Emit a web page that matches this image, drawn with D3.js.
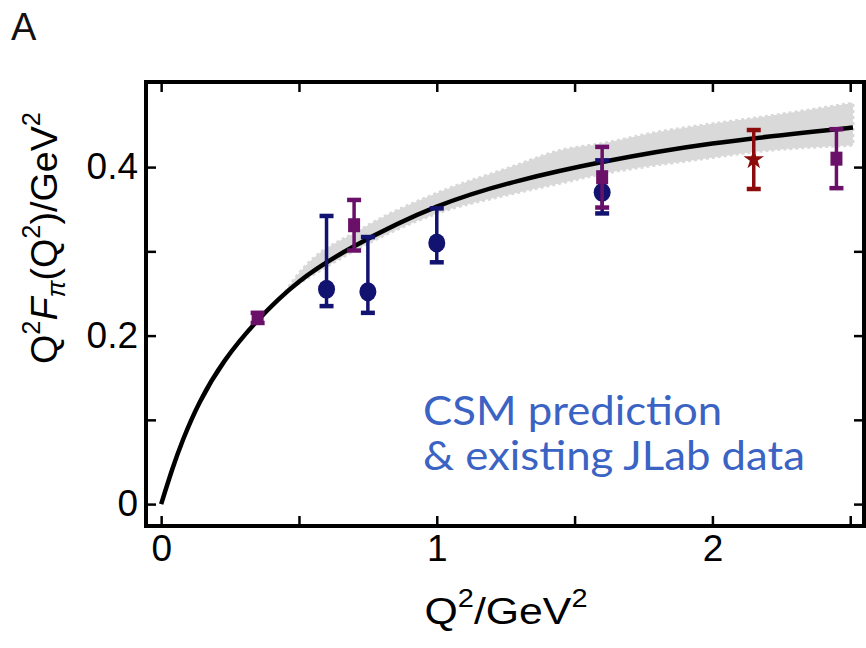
<!DOCTYPE html>
<meta charset="utf-8">
<script src="https://d3js.org/d3.v7.min.js"></script>
<style>
  body { margin: 0; background: #fff; }
</style>
<div id="vis"></div>
<script>

// CSM prediction curve
var curveQ2  = [0, 0.04, 0.08, 0.14, 0.23, 0.35, 0.5, 0.7, 1.0, 1.3, 1.6, 2.0, 2.51]
var curveVal = [0, 0.041, 0.077, 0.121, 0.170, 0.218, 0.264, 0.306, 0.353, 0.384, 0.406, 0.428, 0.447]

// grey uncertainty band
var bandQ2 = [0.45, 0.5, 0.73, 1.0, 1.27, 1.45, 1.6, 1.81, 1.97, 2.15, 2.51]
var bandLo = [0.252, 0.262, 0.306, 0.345, 0.368, 0.381, 0.392, 0.403, 0.41, 0.418, 0.426]
var bandHi = [0.252, 0.274, 0.327, 0.369, 0.4, 0.42, 0.428, 0.442, 0.45, 0.458, 0.476]

// JLab data: circles
var circQ2    = [0.60, 0.75, 1.00, 1.60]
var circVal   = [0.255, 0.252, 0.310, 0.370]
var circErrUp = [0.087, 0.065, 0.041, 0.038]
var circErrDn = [0.020, 0.025, 0.023, 0.025]

// JLab data: squares
var sqQ2  = [0.35, 0.70, 1.60, 2.45]
var sqVal = [0.221, 0.331, 0.388, 0.410]
var sqErr = [0.006, 0.030, 0.036, 0.035]

// star
var starQ2  = [2.15]
var starVal = [0.409]
var starErr = [0.035]

var xTicks = [0, 0.5, 1, 1.5, 2, 2.5]
var xLabels = [0, 1, 2]
var yTicks = [0, 0.1, 0.2, 0.3, 0.4]
var yLabels = [0, 0.2, 0.4]

var noteLines = ["CSM prediction", "& existing JLab data"]

var width = 866,
    height = 648

var axisFont = "'Liberation Sans', Arial, sans-serif"

var svg = d3.select("#vis")
  .append("svg")
    .attr("width", width)
    .attr("height", height)
    .style("font-family", axisFont)

var x = d3.scaleLinear().domain([-0.055, 2.55]).range([146, 864])
var y = d3.scaleLinear().domain([-0.026, 0.501]).range([526, 82])

// band
var band = bandQ2.map(function(q, i) { return {q: q, lo: bandLo[i], hi: bandHi[i]} })
svg.append("path")
  .datum(band)
  .attr("d", d3.area()
    .x(function(d) { return x(d.q) })
    .y0(function(d) { return y(d.lo) })
    .y1(function(d) { return y(d.hi) })
    .curve(d3.curveMonotoneX))
  .attr("fill", "#d9d9d9")
  .attr("stroke", "#d9d9d9")
  .attr("stroke-width", 3)
  .attr("stroke-dasharray", "3,3")

// curve
var curve = curveQ2.map(function(q, i) { return {q: q, v: curveVal[i]} })
svg.append("path")
  .datum(curve)
  .attr("d", d3.line()
    .x(function(d) { return x(d.q) })
    .y(function(d) { return y(d.v) })
    .curve(d3.curveNatural))
  .attr("fill", "none")
  .attr("stroke", "#000")
  .attr("stroke-width", 4.5)

function errorBars(q, v, up, dn, color) {
  var pts = q.map(function(d, i) { return {q: d, v: v[i], up: up[i], dn: dn[i]} })
  var g = svg.append("g").attr("stroke", color)
  g.selectAll("line.bar").data(pts).join("line")
    .attr("class", "bar")
    .attr("x1", function(d) { return x(d.q) })
    .attr("x2", function(d) { return x(d.q) })
    .attr("y1", function(d) { return y(d.v + d.up) })
    .attr("y2", function(d) { return y(d.v - d.dn) })
    .attr("stroke-width", 3.5)
  g.selectAll("line.top").data(pts).join("line")
    .attr("class", "top")
    .attr("x1", function(d) { return x(d.q) - 7 })
    .attr("x2", function(d) { return x(d.q) + 7 })
    .attr("y1", function(d) { return y(d.v + d.up) })
    .attr("y2", function(d) { return y(d.v + d.up) })
    .attr("stroke-width", 4.5)
  g.selectAll("line.bot").data(pts).join("line")
    .attr("class", "bot")
    .attr("x1", function(d) { return x(d.q) - 7 })
    .attr("x2", function(d) { return x(d.q) + 7 })
    .attr("y1", function(d) { return y(d.v - d.dn) })
    .attr("y2", function(d) { return y(d.v - d.dn) })
    .attr("stroke-width", 4.5)
  return pts
}

// circles
var circPts = errorBars(circQ2, circVal, circErrUp, circErrDn, "#121270")
svg.append("g").selectAll("ellipse").data(circPts).join("ellipse")
  .attr("cx", function(d) { return x(d.q) })
  .attr("cy", function(d) { return y(d.v) })
  .attr("rx", 8.5)
  .attr("ry", 9.5)
  .attr("fill", "#121270")

// squares
var sqPts = errorBars(sqQ2, sqVal, sqErr, sqErr, "#6a1068")
svg.append("g").selectAll("rect").data(sqPts).join("rect")
  .attr("x", function(d) { return x(d.q) - 6 })
  .attr("y", function(d) { return y(d.v) - 7 })
  .attr("width", 12)
  .attr("height", 14)
  .attr("fill", "#6a1068")

// star
var starPts = errorBars(starQ2, starVal, starErr, starErr, "#8c0c0c")
svg.append("g").selectAll("path").data(starPts).join("path")
  .attr("d", d3.symbol().type(d3.symbolStar).size(130))
  .attr("transform", function(d) { return "translate(" + x(d.q) + "," + y(d.v) + ")" })
  .attr("fill", "#8c0c0c")

// axes: ticks point inward on all four sides
function styleAxis(g) {
  g.select(".domain").remove()
  g.attr("font-size", 37).attr("font-family", axisFont)
  g.selectAll(".tick line").attr("stroke", "#000").attr("stroke-width", 2.5)
  g.selectAll(".tick text").attr("fill", "#000")
}

svg.append("g")
  .attr("transform", "translate(0," + y.range()[0] + ")")
  .call(d3.axisBottom(x).tickValues(xTicks).tickSize(-10).tickPadding(9)
    .tickFormat(function(d) { return xLabels.indexOf(d) >= 0 ? d : "" }))
  .call(styleAxis)

svg.append("g")
  .attr("transform", "translate(0," + y.range()[1] + ")")
  .call(d3.axisTop(x).tickValues(xTicks).tickSize(-10).tickFormat(""))
  .call(styleAxis)

svg.append("g")
  .attr("transform", "translate(" + x.range()[0] + ",0)")
  .call(d3.axisLeft(y).tickValues(yTicks).tickSize(-10).tickPadding(8)
    .tickFormat(function(d) { return yLabels.indexOf(d) >= 0 ? (d === 0 ? "0" : d.toFixed(1)) : "" }))
  .call(styleAxis)

svg.append("g")
  .attr("transform", "translate(" + x.range()[1] + ",0)")
  .call(d3.axisRight(y).tickValues(yTicks).tickSize(-10).tickFormat(""))
  .call(styleAxis)

// frame
svg.append("rect")
  .attr("x", x.range()[0])
  .attr("y", y.range()[1])
  .attr("width", x.range()[1] - x.range()[0])
  .attr("height", y.range()[0] - y.range()[1])
  .attr("fill", "none")
  .attr("stroke", "#000")
  .attr("stroke-width", 4)

// text pieces: [text, kind, italic]
function addPieces(t, pieces) {
  var shift = 0
  pieces.forEach(function(p) {
    var s = t.append("tspan").text(p[0])
    var target = p[1] === "sup" ? -17 : p[1] === "sub" ? 8 : 0
    s.attr("dy", target - shift)
    shift = target
    if (p[1] === "sup" || p[1] === "sub") s.style("font-size", "25px")
    if (p[2]) s.style("font-style", "italic")
  })
}

function fitWidth(t, w) {
  var bw = t.node().getBBox().width
  t.attr("transform", "scale(" + (w / bw) + ",1)")
}

// x title
var xt = svg.append("g").attr("transform", "translate(506,624)")
var xtText = xt.append("text").attr("text-anchor", "middle").style("font-size", "37px").attr("fill", "#000")
addPieces(xtText, [["Q", ""], ["2", "sup"], ["/GeV", ""], ["2", "sup"]])
fitWidth(xtText, 163)

// y title
var yt = svg.append("g").attr("transform", "translate(57,238) rotate(-90)")
var ytText = yt.append("text").attr("text-anchor", "middle").style("font-size", "37px").attr("fill", "#000")
addPieces(ytText, [["Q", ""], ["2", "sup"], ["F", "", true], ["π", "sub", true], ["(Q", ""], ["2", "sup"], [")/GeV", ""], ["2", "sup"]])
fitWidth(ytText, 252)

// panel letter
svg.append("text")
  .attr("x", 11)
  .attr("y", 40)
  .style("font-size", "38px")
  .attr("fill", "#111")
  .text("A")

// annotation
var noteBase = [425, 470]
var noteG = svg.append("g")
  .attr("fill", "#3b63c4")
  .style("font-family", "Lato, 'Open Sans', sans-serif")
  .style("font-size", "40px")
var notes = noteLines.map(function(s, i) {
  return noteG.append("g").attr("transform", "translate(423," + noteBase[i] + ")")
    .append("text").text(s)
})
var noteScale = 382 / notes[1].node().getComputedTextLength()
notes.forEach(function(t) { t.attr("transform", "scale(" + noteScale + ",1)") })

</script>
